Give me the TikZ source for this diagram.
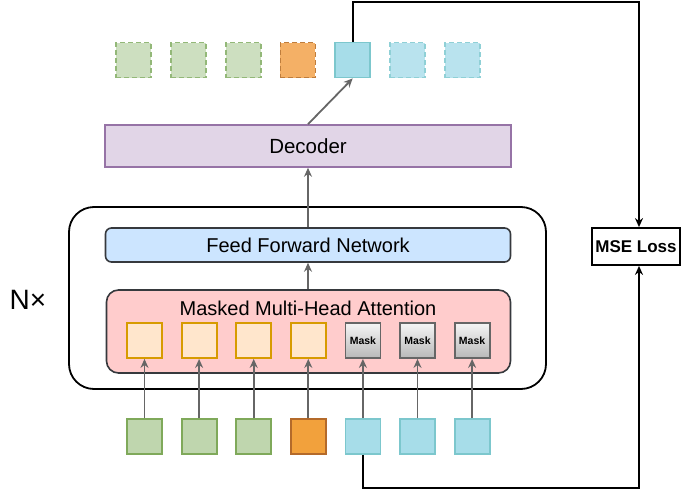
\documentclass[tikz,border=0pt]{standalone}
\usepackage{fontspec}
\setmainfont{Liberation Sans}
\usetikzlibrary{arrows.meta}
\definecolor{gfill}{HTML}{BFD6AE}
\definecolor{gline}{HTML}{7FA95A}
\definecolor{gfillL}{HTML}{CDDFC0}
\definecolor{glineL}{HTML}{93B878}
\definecolor{ofill}{HTML}{F2A13C}
\definecolor{oline}{HTML}{B46A2A}
\definecolor{ofillL}{HTML}{F4B066}
\definecolor{olineL}{HTML}{BF7D3C}
\definecolor{bfill}{HTML}{A7DDE9}
\definecolor{bline}{HTML}{7CC7CD}
\definecolor{bfillL}{HTML}{B9E3EE}
\definecolor{blineL}{HTML}{8FD0D6}
\definecolor{pfill}{HTML}{FFE6CC}
\definecolor{pline}{HTML}{D79B00}
\definecolor{attfill}{HTML}{FFCCCC}
\definecolor{ffnfill}{HTML}{CCE5FF}
\definecolor{decfill}{HTML}{E1D5E7}
\definecolor{decline}{HTML}{9673A6}
\definecolor{dgray}{HTML}{36393D}
\definecolor{agray}{HTML}{666666}
\tikzset{
  sq/.style={minimum width=35pt,minimum height=35pt,inner sep=0pt,line width=1.8pt,draw},
  dsq/.style={sq,dash pattern=on 5pt off 3pt},
  maskbox/.style={sq,draw=agray,top color=gray!8,bottom color=gray!55,font=\fontsize{10.5}{12}\selectfont\bfseries},
  garrow/.style={draw=agray,line width=1.8pt,-{Stealth[length=9pt,width=8pt]}},
  karrow/.style={draw=black,line width=2pt,-{Stealth[length=9pt,width=8pt]}},
  mtext/.style={font=\fontsize{20}{24}\selectfont},
}
\begin{document}
\begin{tikzpicture}[x=1pt,y=-1pt]
\useasboundingbox (0,0) rectangle (681,490);
% outer block
\node[draw=black,line width=1.8pt,rounded corners=25pt,minimum width=477pt,minimum height=182pt] (outer) at (307.5,298) {};
\node[font=\fontsize{28}{32}\selectfont] (nx) at (28,300) {N×};
% decoder, ffn, attention
\node[draw=decline,fill=decfill,line width=1.6pt,minimum width=406pt,minimum height=42pt,inner sep=0pt,font=\fontsize{20.5}{24}\selectfont] (dec) at (308,146) {Decoder};
\node[draw=dgray,fill=ffnfill,line width=1.6pt,rounded corners=6pt,minimum width=405pt,minimum height=34pt,inner sep=0pt,mtext] (ffn) at (308,245) {Feed Forward Network};
\node[draw=dgray,fill=attfill,line width=1.6pt,rounded corners=12pt,minimum width=404pt,minimum height=83pt,inner sep=0pt] (att) at (308.5,331.5) {};
\node[mtext] (atttxt) at (308,308) {Masked Multi-Head Attention};
% inner squares
\foreach \i in {1,...,4} {
  \node[sq,draw=pline,fill=pfill] (p\i) at ({144.5+54.6*(\i-1)},340.5) {};
}
\foreach \i in {5,6,7} {
  \node[maskbox] (p\i) at ({144.5+54.6*(\i-1)},340.5) {Mask};
}
% bottom squares
\foreach \i in {1,2,3} {
  \node[sq,draw=gline,fill=gfill] (b\i) at ({144.5+54.6*(\i-1)},436.5) {};
}
\node[sq,draw=oline,fill=ofill] (b4) at ({144.5+54.6*3},436.5) {};
\foreach \i in {5,6,7} {
  \node[sq,draw=bline,fill=bfill] (b\i) at ({144.5+54.6*(\i-1)},436.5) {};
}
% top squares
\foreach \i in {1,2,3} {
  \node[dsq,draw=glineL,fill=gfillL] (t\i) at ({133.5+54.8*(\i-1)},60) {};
}
\node[dsq,draw=olineL,fill=ofillL] (t4) at ({133.5+54.8*3},60) {};
\node[sq,draw=bline,fill=bfill] (t5) at ({133.5+54.8*4},60) {};
\foreach \i in {6,7} {
  \node[dsq,draw=blineL,fill=bfillL] (t\i) at ({133.5+54.8*(\i-1)},60) {};
}
% MSE loss
\node[draw=black,line width=1.8pt,minimum width=88pt,minimum height=37pt,inner sep=0pt,font=\fontsize{17}{20}\selectfont\bfseries] (mse) at (636,246.5) {MSE Loss};
% arrows
\foreach \i in {1,...,7} {
  \draw[garrow] (b\i.north) -- (p\i.south);
}
\draw[garrow] (att.north -| ffn.south) -- (ffn.south);
\draw[garrow] (ffn.north) -- (dec.south);
\draw[garrow] (dec.north) -- (t5.south);
\coordinate (k1) at (639,2);
\coordinate (k2) at (639,488);
\draw[karrow] (t5.north) |- (k1) -- (k1 |- mse.north);
\draw[karrow] (b5.south) |- (k2) -- (k2 |- mse.south);
\end{tikzpicture}
\end{document}
